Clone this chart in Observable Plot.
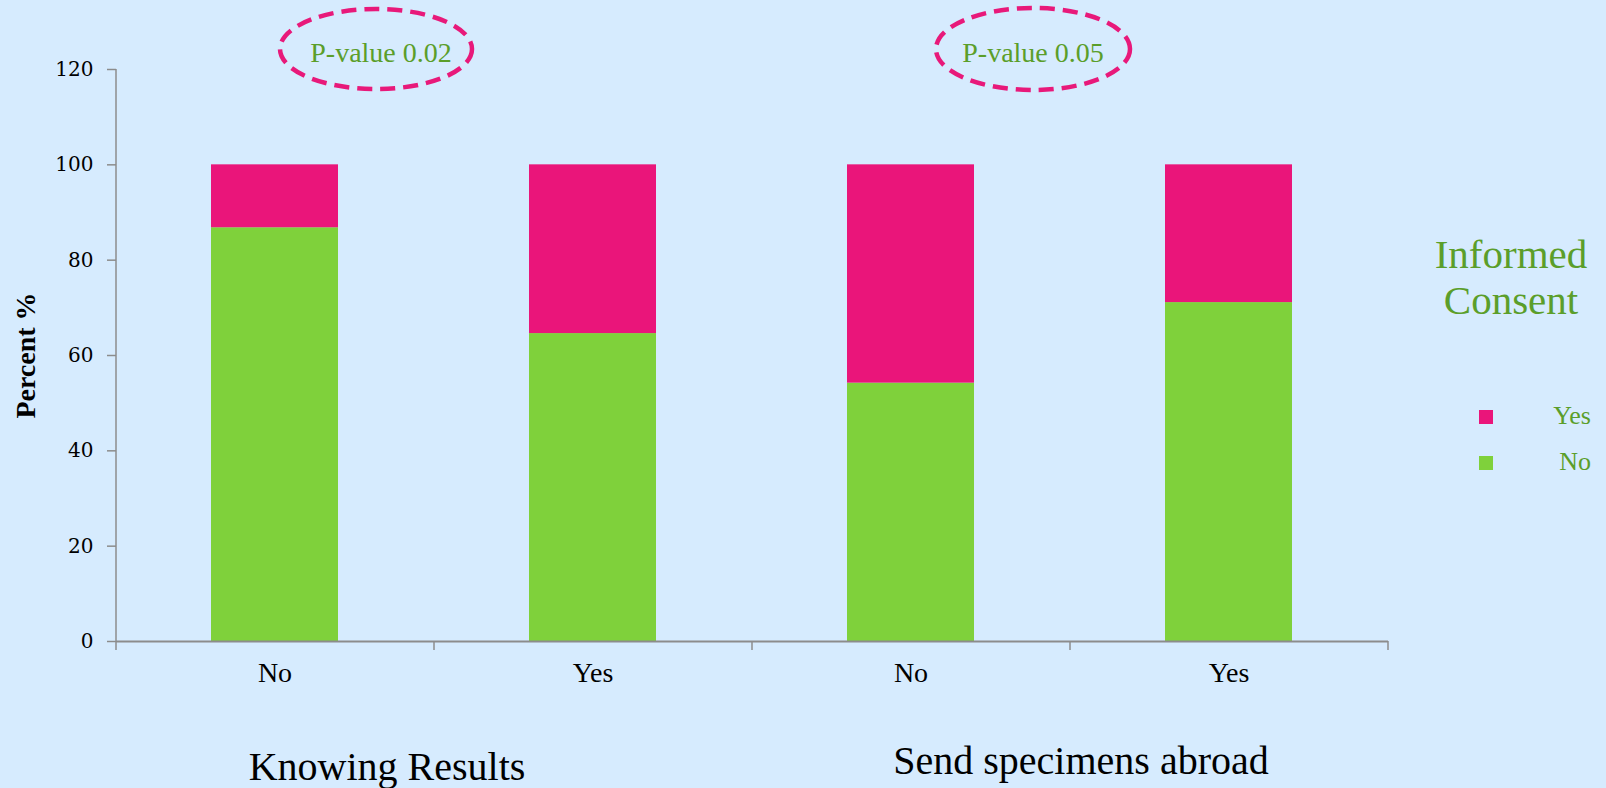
<!DOCTYPE html>
<html><head><meta charset="utf-8">
<script src="https://cdn.jsdelivr.net/npm/d3@7"></script>
<script src="https://cdn.jsdelivr.net/npm/@observablehq/plot@0.6"></script>
<style>
html,body{margin:0;padding:0;background:#d6ebfe;}
#wrap{position:relative;width:1606px;height:788px;overflow:hidden;}
#wrap svg.overlay{position:absolute;left:0;top:0;pointer-events:none;}
#wrap svg{display:block;}
</style></head><body><div id="wrap"></div>
<script>
// ---- data ----
const groupNames = ["Knowing Results", "Send specimens abroad"];
const barGroups = ["Knowing Results", "Knowing Results", "Send specimens abroad", "Send specimens abroad"];
const answers = ["No", "Yes", "No", "Yes"];
const consentNo = [86.8, 64.6, 54.2, 71.1];
const consentYes = [13.2, 35.4, 45.8, 28.9];
const seriesOrder = ["No", "Yes"];
const legendOrder = ["Yes", "No"];
const seriesColors = ["#7fd13b", "#ea157a"]; // No, Yes
const yTicks = [0, 20, 40, 60, 80, 100, 120];
const pValueLabels = ["P-value 0.02", "P-value 0.05"];
const legendTitle = ["Informed", "Consent"];
const yLabel = "Percent %";

// ---- table ----
const keys = barGroups.map((g, i) => g + "|" + answers[i]);
const rows = [];
keys.forEach((k, i) => {
  rows.push({key: k, series: "No", value: consentNo[i]});
  rows.push({key: k, series: "Yes", value: consentYes[i]});
});

// ---- layout ----
const W = 1606, H = 788, mL = 116, mR = 218, mT = 69, mB = 147;
const pI = 0.6, pO = 0.3;
const step = (W - mL - mR) / (keys.length - pI + 2 * pO);
const axisGray = "#8c8c8c";
const green = "#5b9e2a";
const serif = '"Liberation Serif", "Times New Roman", serif';

const plot = Plot.plot({
  width: W, height: H,
  marginLeft: mL, marginRight: mR, marginTop: mT, marginBottom: mB,
  style: {background: "transparent", fontFamily: serif, color: "#000", overflow: "visible"},
  x: {domain: keys, paddingInner: pI, paddingOuter: pO},
  y: {domain: [0, 120]},
  color: {domain: seriesOrder, range: seriesColors},
  marks: [
    Plot.barY(rows, {x: "key", y: "value", fill: "series"}),
    Plot.ruleY([0], {stroke: axisGray, strokeWidth: 2}),
    Plot.ruleX([keys[0]], {x: d => d, dx: -step / 2, y1: 0, y2: 120, stroke: axisGray, strokeWidth: 1.5}),
    Plot.ruleX(keys, {x: d => d, dx: -step / 2, y1: 0, y2: 0, insetBottom: -9, stroke: axisGray, strokeWidth: 1.5}),
    Plot.ruleX([keys[keys.length - 1]], {x: d => d, dx: step / 2, y1: 0, y2: 0, insetBottom: -9, stroke: axisGray, strokeWidth: 1.5}),
    Plot.axisY({ticks: yTicks, tickSize: 9, tickPadding: 14, fontSize: 20, fontFamily: '"DejaVu Serif", serif', stroke: axisGray, strokeWidth: 1.5, fill: "#000", label: null}),
    Plot.axisX({tickSize: 0, tickPadding: 21, fontSize: 28, fill: "#000", label: null, tickFormat: k => k.split("|")[1]}),
    Plot.text([yLabel], {text: d => d, frameAnchor: "left", textAnchor: "middle", rotate: -90, dx: -90, fontSize: 28, fontWeight: "bold", fill: "#000"})
  ]
});
const wrap = document.getElementById("wrap");
wrap.appendChild(plot);

// ---- annotations / legend overlay ----
const svg = d3.select(wrap).append("svg").attr("class", "overlay")
  .attr("width", W).attr("height", H)
  .style("font-family", serif);

const ellipses = [
  {cx: 376, cy: 49, rx: 96, ry: 40, tx: 381, ty: 62},
  {cx: 1033, cy: 49, rx: 97, ry: 41, tx: 1033, ty: 62}
];
ellipses.forEach((e, i) => {
  svg.append("ellipse").attr("cx", e.cx).attr("cy", e.cy).attr("rx", e.rx).attr("ry", e.ry)
    .attr("fill", "none").attr("stroke", "#e8197a").attr("stroke-width", 4.5)
    .attr("stroke-dasharray", "15 8");
  svg.append("text").attr("x", e.tx).attr("y", e.ty).attr("text-anchor", "middle")
    .attr("font-size", 28).attr("fill", green).text(pValueLabels[i]);
});

// legend title
const titleBase = [268, 314];
legendTitle.forEach((t, i) => {
  svg.append("text").attr("x", 1511).attr("y", titleBase[i]).attr("text-anchor", "middle")
    .attr("font-size", 41).attr("fill", green).text(t);
});
// legend items
const legendY = [410, 456];
legendOrder.forEach((s, i) => {
  svg.append("rect").attr("x", 1479).attr("y", legendY[i]).attr("width", 14).attr("height", 14)
    .attr("fill", seriesColors[seriesOrder.indexOf(s)]);
  svg.append("text").attr("x", 1591).attr("y", legendY[i] + 14).attr("text-anchor", "end")
    .attr("font-size", 26).attr("fill", green).text(s);
});
// group labels
const groupPos = [{x: 387, y: 780}, {x: 1081, y: 774}];
groupNames.forEach((g, i) => {
  svg.append("text").attr("x", groupPos[i].x).attr("y", groupPos[i].y).attr("text-anchor", "middle")
    .attr("font-size", 40).attr("fill", "#000").text(g);
});
</script>
</body></html>
